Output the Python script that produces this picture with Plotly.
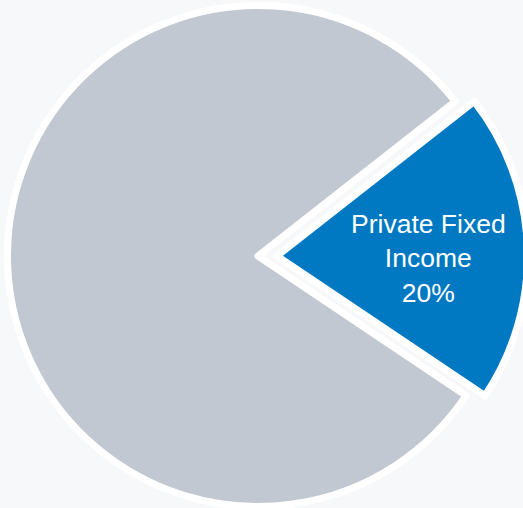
import plotly.graph_objects as go

labels = ["Private Fixed<br>Income", "Other"]
values = [20, 80]
slice_colors = ["#0079c2", "#c1c8d1"]
bg = "#f7f8fa"

W, H = 530, 508
R = 250.5
gray_c = (258, 256)
blue_c = (277, 256)
ROT = 51.9


def dom(c):
    x0, x1 = (c[0] - R) / W, (c[0] + R) / W
    y0, y1 = (H - (c[1] + R)) / H, (H - (c[1] - R)) / H
    return dict(x=[max(0, x0), min(1, x1)], y=[max(0, y0), min(1, y1)])


fig = go.Figure()
# gray slice
fig.add_trace(go.Pie(
    labels=labels, values=values, sort=False, direction="clockwise", rotation=ROT,
    marker=dict(colors=["rgba(0,0,0,0)", slice_colors[1]],
                line=dict(color=["rgba(0,0,0,0)", "white"], width=7)),
    textinfo="none", hoverinfo="skip", showlegend=False, domain=dom(gray_c),
))
# blue slice (offset)
fig.add_trace(go.Pie(
    labels=labels, values=values, sort=False, direction="clockwise", rotation=ROT,
    marker=dict(colors=[slice_colors[0], "rgba(0,0,0,0)"],
                line=dict(color=["white", "rgba(0,0,0,0)"], width=7)),
    textinfo="none", hoverinfo="skip", showlegend=False, domain=dom(blue_c),
))
fig.add_annotation(
    text=f"{labels[0]}<br>{values[0]}%", showarrow=False,
    xref="paper", yref="paper", x=428.5 / W, y=(H - 258) / H,
    xanchor="center", yanchor="middle", align="center",
    font=dict(family="Liberation Sans, Arial, sans-serif", size=26.5, color="white"),
)
fig.update_layout(width=W, height=H, margin=dict(l=0, r=0, t=0, b=0),
                  paper_bgcolor=bg, plot_bgcolor=bg, showlegend=False)
fig.write_html("out.html")
